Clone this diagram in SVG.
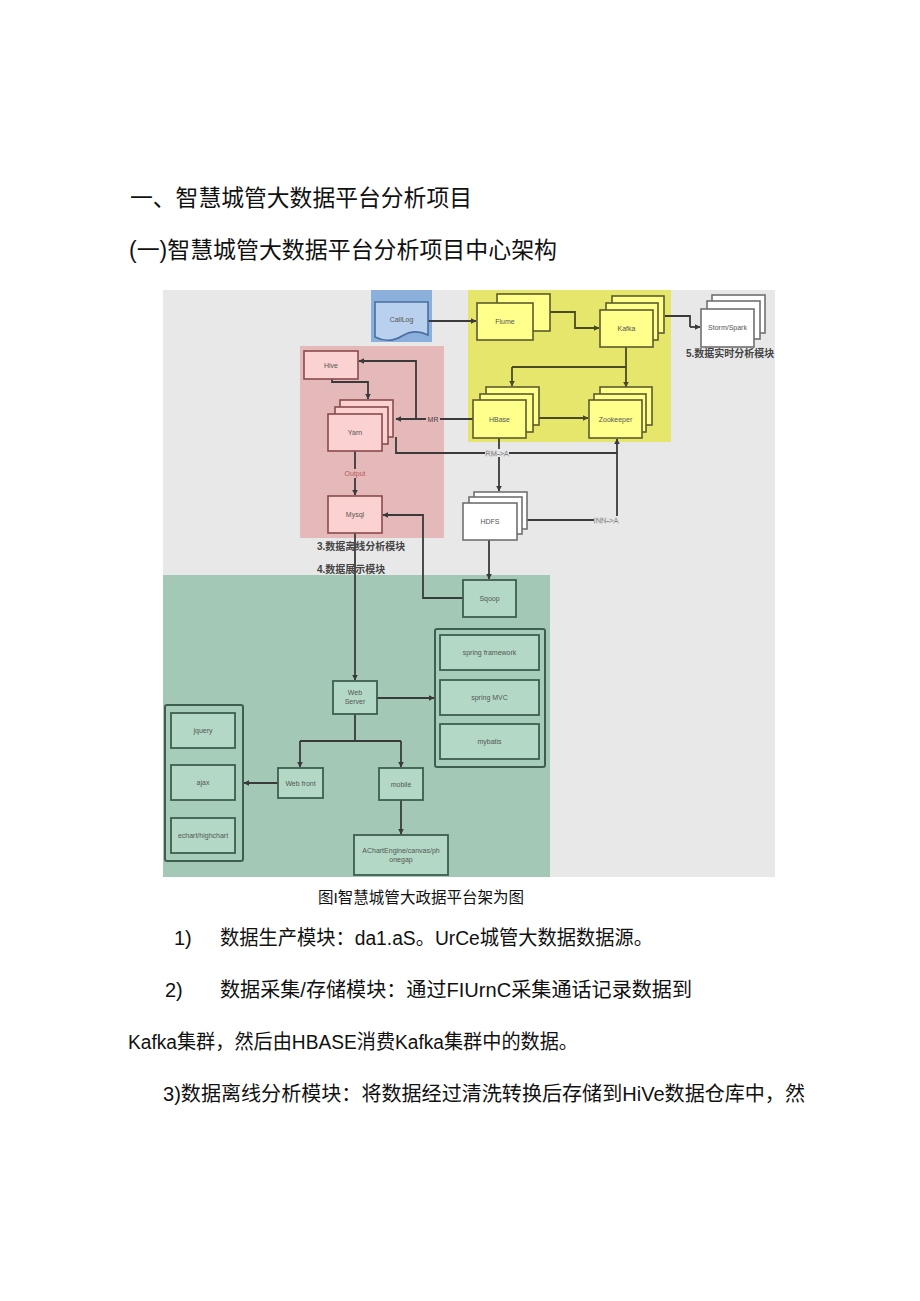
<svg xmlns="http://www.w3.org/2000/svg" width="920" height="1301" viewBox="0 0 920 1301">
<defs>
<marker id="ah" viewBox="0 0 10 10" refX="9" refY="5" markerWidth="3.2" markerHeight="3.2" orient="auto"><path d="M0,0 L10,5 L0,10 z" fill="#3a3a3a"/></marker>
<marker id="ahy" viewBox="0 0 10 10" refX="9" refY="5" markerWidth="3.2" markerHeight="3.2" orient="auto"><path d="M0,0 L10,5 L0,10 z" fill="#4a4a25"/></marker>
<style>
.doc{font-family:"Liberation Sans","Noto Sans CJK SC",sans-serif;fill:#111}
.h{font-size:23px}
.b{font-size:20px}
.cap{font-size:15.5px}
.mod{font-family:"Liberation Sans","Noto Sans CJK SC",sans-serif;font-size:10px;fill:#444;font-weight:bold}
.lb{font-family:"Liberation Sans","Noto Sans CJK SC",sans-serif;font-size:7px;fill:#555;text-anchor:middle}
.y{fill:#ffff8c;stroke:#5c5c2e;stroke-width:1.6}
.p{fill:#fbd1d1;stroke:#8a4a4a;stroke-width:1.6}
.w{fill:#ffffff;stroke:#707070;stroke-width:1.6}
.g{fill:#b3d9c6;stroke:#3e5e4f;stroke-width:1.8}
.gc{fill:#a6cdb9;stroke:#3e5e4f;stroke-width:2}
.c{fill:none;stroke:#3a3a3a;stroke-width:1.8;marker-end:url(#ah)}
.cn{fill:none;stroke:#3a3a3a;stroke-width:1.8}
.cy{fill:none;stroke:#4a4a25;stroke-width:1.8;marker-end:url(#ahy)}
.cyn{fill:none;stroke:#4a4a25;stroke-width:1.8}
.el{font-family:"Liberation Sans",sans-serif;font-size:7.5px;fill:#fafafa;stroke:#7a7a7a;stroke-width:0.35;text-anchor:middle}
</style>
</defs>
<rect width="920" height="1301" fill="#ffffff"/>
<g id="headings">
<text class="doc h" x="130" y="206" textLength="342" lengthAdjust="spacingAndGlyphs">一、智慧城管大数据平台分析项目</text>
<text class="doc h" x="129" y="258" textLength="428" lengthAdjust="spacingAndGlyphs">(一)智慧城管大数据平台分析项目中心架构</text>
</g>
<g id="diagram-bg">
<rect x="163" y="290" width="612" height="587" fill="#e8e8e8"/>
<rect x="371" y="290" width="61" height="52" fill="#8bb0dc"/>
<rect x="468" y="290" width="203" height="152" fill="#e6e66c"/>
<rect x="300" y="346" width="144" height="192" fill="#e5b9b9"/>
<rect x="163" y="575" width="387" height="302" fill="#a3c9b6"/>
</g>
<g id="connectors">
<path class="c" d="M428,321 H476"/>
<path class="cy" d="M550,312 H575 V328 H599"/>
<path class="cn" d="M665,316 H690 V327"/>
<path class="c" d="M690,327 H700"/>
<path class="cyn" d="M626,347 V367 H512"/>
<path class="cy" d="M512,367 V386"/>
<path class="cy" d="M626,367 V387"/>
<path class="cy" d="M539,418 H588"/>
<path class="c" d="M473,419 H396"/>
<path class="c" d="M416,419 V361 H359"/>
<path class="c" d="M332,379 V382 H368 V399"/>
<path class="cn" d="M396,437 V453 H617"/>
<path class="c" d="M617,520 V439"/>
<path class="cn" d="M527,520 H617"/>
<path class="c" d="M499,438 V491"/>
<path class="c" d="M355,451 V495"/>
<path class="c" d="M489,540 V579"/>
<path class="c" d="M463,598 H423 V515 H383"/>
<path class="c" d="M355,533 V680"/>
<path class="c" d="M377,698 H434"/>
<path class="cn" d="M355,714 V741 M300,741 H401"/>
<path class="c" d="M300,741 V767"/>
<path class="c" d="M401,741 V767"/>
<path class="c" d="M278,783 H244"/>
<path class="c" d="M401,800 V834"/>
<rect x="426" y="415" width="14" height="8" fill="#e5b9b9"/>
<text class="lb" x="433" y="421.5" style="fill:#444">MR</text>
<rect x="485" y="449" width="24" height="8" fill="#e8e8e8"/>
<text class="el" x="497" y="455.5">RM-&gt;A</text>
<rect x="594" y="516" width="25" height="8" fill="#e8e8e8"/>
<text class="el" x="606" y="522.5">INN-&gt;A</text>
<rect x="342" y="469" width="26" height="9" fill="#e5b9b9"/>
<text class="lb" x="355" y="476" style="fill:#b85a5a">Output</text>
</g>
<g id="calllog">
<path d="M375,302 H428 V335 C418,330 410,331 402,336 C394,341 385,342 375,337 Z" fill="#b9d1ee" stroke="#4a6f9e" stroke-width="1.6"/>
<text class="lb" x="401.5" y="322">CallLog</text>
</g>
<g id="flume">
<rect class="y" x="497" y="294" width="53" height="37"/>
<rect class="y" x="477" y="303" width="56" height="37"/>
<text class="lb" x="505" y="324">Flume</text>
</g>
<g id="kafka">
<rect class="y" x="612" y="296" width="52" height="37"/>
<rect class="y" x="606" y="303" width="52" height="37"/>
<rect class="y" x="600" y="310" width="53" height="37"/>
<text class="lb" x="626.5" y="331">Kafka</text>
</g>
<g id="storm-spark">
<rect class="w" x="712" y="295" width="53" height="38"/>
<rect class="w" x="707" y="301" width="53" height="38"/>
<rect class="w" x="701" y="309" width="53" height="38"/>
<text class="lb" x="727.5" y="330">Storm/Spark</text>
<text class="mod" x="686" y="357">5.数据实时分析模块</text>
</g>
<g id="hbase">
<rect class="y" x="486" y="387" width="53" height="38"/>
<rect class="y" x="480" y="394" width="53" height="38"/>
<rect class="y" x="473" y="400" width="53" height="38"/>
<text class="lb" x="499.5" y="421.5">HBase</text>
</g>
<g id="zookeeper">
<rect class="y" x="600" y="387" width="52" height="38"/>
<rect class="y" x="594" y="394" width="52" height="38"/>
<rect class="y" x="589" y="400" width="53" height="38"/>
<text class="lb" x="615.5" y="421.5">Zookeeper</text>
</g>
<g id="hive">
<rect class="p" x="304" y="351" width="54" height="28"/>
<text class="lb" x="331" y="367.5">Hive</text>
</g>
<g id="yarn">
<rect class="p" x="340" y="400" width="53" height="37"/>
<rect class="p" x="335" y="407" width="53" height="37"/>
<rect class="p" x="328" y="414" width="54" height="37"/>
<text class="lb" x="355" y="435">Yarn</text>
</g>
<g id="mysql">
<rect class="p" x="328" y="496" width="54" height="37"/>
<text class="lb" x="355" y="517">Mysql</text>
<text class="mod" x="317" y="550">3.数据离线分析模块</text>
<text class="mod" x="317" y="573">4.数据展示模块</text>
</g>
<g id="hdfs">
<rect class="w" x="474" y="492" width="53" height="37"/>
<rect class="w" x="469" y="497" width="53" height="37"/>
<rect class="w" x="463" y="503" width="54" height="37"/>
<text class="lb" x="490" y="524">HDFS</text>
</g>
<g id="sqoop">
<rect class="g" x="463" y="580" width="53" height="37"/>
<text class="lb" x="489.5" y="601">Sqoop</text>
</g>
<g id="web-server">
<rect class="g" x="333" y="681" width="44" height="33"/>
<text class="lb" x="355" y="695">Web</text>
<text class="lb" x="355" y="704">Server</text>
</g>
<g id="backend-stack">
<rect class="gc" x="435" y="629" width="110" height="138" rx="2"/>
<rect class="g" x="440" y="635" width="99" height="35"/>
<text class="lb" x="489.5" y="655">spring framework</text>
<rect class="g" x="440" y="680" width="99" height="35"/>
<text class="lb" x="489.5" y="700">spring MVC</text>
<rect class="g" x="440" y="724" width="99" height="35"/>
<text class="lb" x="489.5" y="744">mybatis</text>
</g>
<g id="frontend-stack">
<rect class="gc" x="165" y="705" width="78" height="156" rx="2"/>
<rect class="g" x="171" y="713" width="64" height="35"/>
<text class="lb" x="203" y="733">jquery</text>
<rect class="g" x="171" y="765" width="64" height="35"/>
<text class="lb" x="203" y="785">ajax</text>
<rect class="g" x="171" y="818" width="64" height="35"/>
<text class="lb" x="203" y="838">echart/highchart</text>
</g>
<g id="web-front">
<rect class="g" x="278" y="768" width="45" height="30"/>
<text class="lb" x="300.5" y="785.5">Web front</text>
</g>
<g id="mobile">
<rect class="g" x="379" y="768" width="44" height="32"/>
<text class="lb" x="401" y="786.5">mobile</text>
</g>
<g id="achartengine">
<rect class="g" x="354" y="835" width="94" height="40"/>
<text class="lb" x="401" y="853">AChartEngine/canvas/ph</text>
<text class="lb" x="401" y="862">onegap</text>
</g>
<g id="body-text">
<text class="doc cap" x="318" y="903" textLength="206" lengthAdjust="spacingAndGlyphs">图I智慧城管大政据平台架为图</text>
<text class="doc b" x="174" y="945">1)</text>
<text class="doc b" x="220" y="945" textLength="433" lengthAdjust="spacingAndGlyphs">数据生产模块：da1.aS。UrCe城管大数据数据源。</text>
<text class="doc b" x="165" y="997">2)</text>
<text class="doc b" x="220" y="997" textLength="472" lengthAdjust="spacingAndGlyphs">数据采集/存储模块：通过FIUrnC采集通话记录数据到</text>
<text class="doc b" x="128" y="1049" textLength="450" lengthAdjust="spacingAndGlyphs">Kafka集群，然后由HBASE消费Kafka集群中的数据。</text>
<text class="doc b" x="163" y="1101" textLength="642" lengthAdjust="spacingAndGlyphs">3)数据离线分析模块：将数据经过清洗转换后存储到HiVe数据仓库中，然</text>
</g>
</svg>
